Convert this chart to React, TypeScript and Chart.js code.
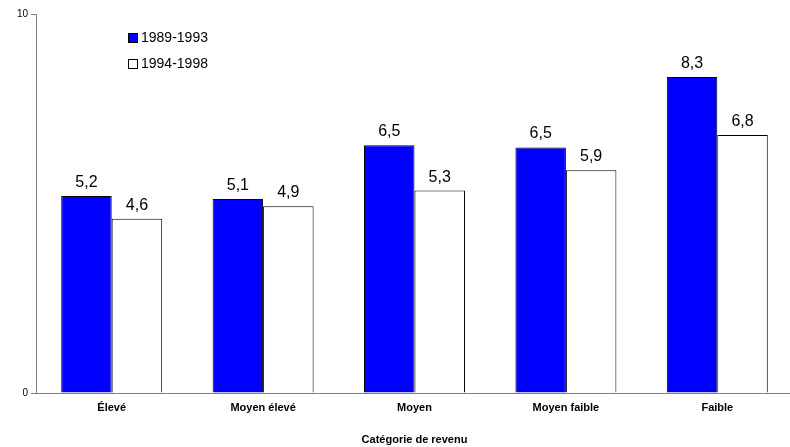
import React, { useEffect, useRef } from "react";
import { Chart, registerables } from "chart.js";

Chart.register(...registerables);

const categories = ["Élevé", "Moyen élevé", "Moyen", "Moyen faible", "Faible"];
const series1989 = [5.2, 5.12, 6.54, 6.48, 8.34];
const series1994 = [4.6, 4.93, 5.34, 5.88, 6.81];
const seriesNames = ["1989-1993", "1994-1998"];
const yTicks = [0, 10];
const axisTitle = "Catégorie de revenu";

const labelsPlugin = {
  id: "valueLabels",
  afterDatasetsDraw(chart: any) {
    const ctx = chart.ctx;
    ctx.save();
    ctx.font = "16px Arial, 'Liberation Sans', sans-serif";
    ctx.fillStyle = "#000";
    ctx.textAlign = "center";
    ctx.textBaseline = "alphabetic";
    chart.data.datasets.forEach((ds: any, i: number) => {
      const meta = chart.getDatasetMeta(i);
      meta.data.forEach((bar: any, j: number) => {
        const v = ds.data[j];
        ctx.fillText(v.toFixed(1).replace(".", ","), bar.x, bar.y - 9);
      });
    });
    ctx.restore();
  },
};

const legendPlugin = {
  id: "customLegend",
  afterDraw(chart: any) {
    const ctx = chart.ctx;
    ctx.save();
    const items = [
      { name: seriesNames[0], fill: "#0000FF", y: 33 },
      { name: seriesNames[1], fill: "#FFFFFF", y: 59 },
    ];
    ctx.font = "14px Arial, 'Liberation Sans', sans-serif";
    ctx.textBaseline = "middle";
    ctx.textAlign = "left";
    items.forEach((it) => {
      ctx.fillStyle = it.fill;
      ctx.fillRect(128.5, it.y + 0.5, 9, 9);
      ctx.strokeStyle = "#000";
      ctx.lineWidth = 1;
      ctx.strokeRect(128.5, it.y + 0.5, 9, 9);
      ctx.fillStyle = "#000";
      ctx.fillText(it.name, 141, it.y + 5.5);
    });
    ctx.restore();
  },
};

export default function App() {
  const ref = useRef<HTMLCanvasElement>(null);
  useEffect(() => {
    document.body.style.margin = "0";
    const chart = new Chart(ref.current!, {
      type: "bar",
      data: {
        labels: categories,
        datasets: [
          {
            label: seriesNames[0],
            data: series1989,
            backgroundColor: "#0000FF",
            borderColor: "#000000",
            borderWidth: 1,
            barPercentage: 1,
            categoryPercentage: 0.667,
          },
          {
            label: seriesNames[1],
            data: series1994,
            backgroundColor: "#FFFFFF",
            borderColor: "#000000",
            borderWidth: 1,
            barPercentage: 1,
            categoryPercentage: 0.667,
          },
        ],
      },
      options: {
        animation: false,
        responsive: false,
        maintainAspectRatio: false,
        layout: { padding: { top: 14, right: 0, left: 0, bottom: 0 } },
        plugins: { legend: { display: false }, tooltip: { enabled: false } },
        scales: {
          x: {
            grid: { display: false, drawTicks: false },
            border: { color: "#808080", width: 1 },
            ticks: {
              color: "#000",
              font: { family: "Arial, 'Liberation Sans', sans-serif", size: 11, weight: "bold" },
              padding: 8,
              maxRotation: 0,
            },
            title: {
              display: true,
              text: axisTitle,
              color: "#000",
              font: { family: "Arial, 'Liberation Sans', sans-serif", size: 11, weight: "bold" },
              padding: { top: 16, bottom: 0 },
            },
            afterFit(scale: any) {
              scale.height = 54;
            },
          },
          y: {
            min: 0,
            max: 10,
            grid: { display: true, drawOnChartArea: false, drawTicks: true, tickLength: 5, color: "#808080" },
            border: { color: "#808080", width: 1 },
            afterBuildTicks(scale: any) {
              scale.ticks = yTicks.map((v) => ({ value: v }));
            },
            ticks: {
              color: "#000",
              font: { family: "Arial, 'Liberation Sans', sans-serif", size: 10 },
              padding: 3,
            },
            afterFit(scale: any) {
              scale.width = 36;
            },
          },
        },
      },
      plugins: [labelsPlugin, legendPlugin],
    } as any);
    return () => chart.destroy();
  }, []);
  return (
    <div style={{ width: 790, height: 447, overflow: "hidden" }}>
      <canvas ref={ref} width={793} height={447} style={{ display: "block" }} />
    </div>
  );
}
